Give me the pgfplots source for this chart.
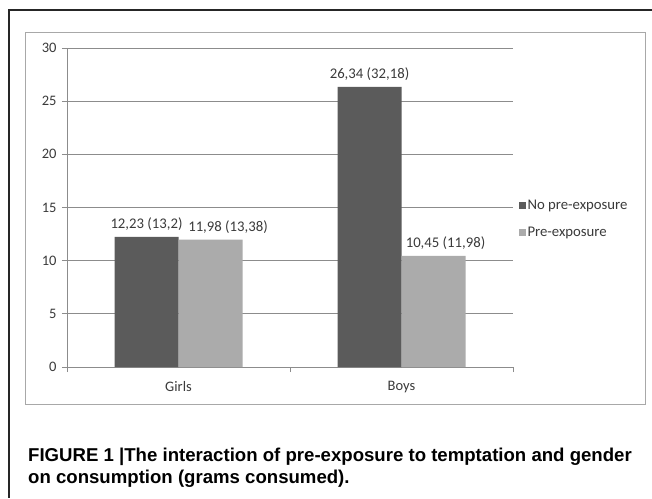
\documentclass[border=0pt]{standalone}
\usepackage{pgfplots}
\pgfplotsset{compat=1.18}
\usepackage{pgfplotstable}
\usepackage{fontspec}
\setmainfont{Carlito}
\newfontfamily\capfont{Liberation Sans}
\definecolor{darkbar}{HTML}{5B5B5B}
\definecolor{lightbar}{HTML}{ABABAB}
\definecolor{gridc}{HTML}{8C8C8C}
\definecolor{txt}{HTML}{3A3A3A}
\definecolor{framec}{HTML}{A8A8A8}

\pgfplotstableread{
x y dx label
0 12.23 0 {12,23 (13,2)}
1 26.34 0 {26,34 (32,18)}
}\noexp
\pgfplotstableread{
x y dx label
0 11.98 17.5 {11,98 (13,38)}
1 10.45 12 {10,45 (11,98)}
}\preexp

\begin{document}
\begin{tikzpicture}[x=1pt,y=1pt]
\useasboundingbox (0,0) rectangle (652,498);
\draw[line width=1.5pt, black!85] (652,488) -- (9,488) -- (9,0);
\draw[framec, line width=1pt] (25,94) rectangle (645,465);
\begin{axis}[
  at={(67pt,131pt)}, anchor=south west,
  scale only axis, width=446pt, height=319pt,
  xmin=-0.5, xmax=1.5, ymin=0, ymax=30,
  ybar=0pt, bar width=64pt,
  axis x line*=bottom, axis y line*=left,
  axis line style={gridc, line width=0.8pt, -},
  tick align=outside, major tick length=5pt,
  tick style={gridc, line width=0.8pt},
  ytick={0,5,...,30},
  xtick={-0.5,0.5,1.5}, xticklabels={},
  extra x ticks={0,1}, extra x tick labels={Girls,Boys},
  extra x tick style={tick style={draw=none}},
  ymajorgrids, major grid style={gridc, line width=0.8pt},
  /pgf/number format/assume math mode=true,
  ticklabel style={font=\fontsize{14.5}{17}\selectfont, text=txt},
  xticklabel style={yshift=-6pt},
  yticklabel style={xshift=-2pt},
  nodes near coords, point meta=explicit symbolic,
  visualization depends on={\thisrow{dx}\as\dx},
  nodes near coords style={font=\fontsize{14.75}{17}\selectfont, text=txt, xshift=\dx pt, yshift=3pt},
  legend image code/.code={\fill[#1] (0pt,-3.5pt) rectangle (7pt,3.5pt);},
  legend style={at={(rel axis cs:1.013,0.464)}, anchor=west, draw=none, fill=none,
    font=\fontsize{14.75}{17}\selectfont, text=txt, row sep=13pt, inner sep=0pt,
    nodes={inner sep=1.5pt}},
  legend cell align=left,
]
\addplot[fill=darkbar, draw=none] table[x=x, y=y, meta=label] {\noexp};
\addplot[fill=lightbar, draw=none] table[x=x, y=y, meta=label] {\preexp};
\legend{No pre-exposure, Pre-exposure}
\end{axis}
\node[anchor=base west, inner sep=0pt, font=\capfont\bfseries\fontsize{18.6}{22}\selectfont] at (28,37) {FIGURE 1 |The interaction of pre-exposure to temptation and gender};
\node[anchor=base west, inner sep=0pt, font=\capfont\bfseries\fontsize{18.6}{22}\selectfont] at (28,15) {on consumption (grams consumed).};
\end{tikzpicture}
\end{document}
